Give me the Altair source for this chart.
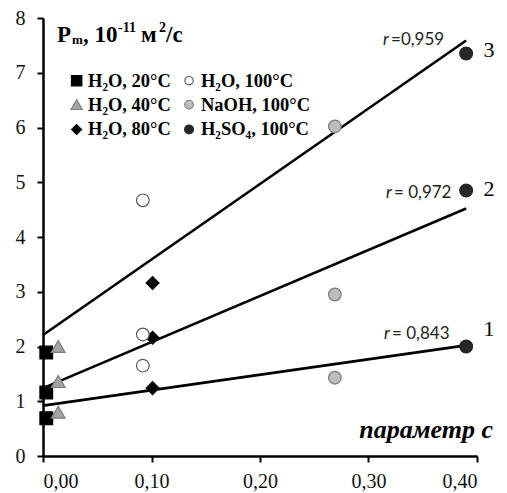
import altair as alt
import pandas as pd

# ---------------- data ----------------
series = ["H₂O, 20°C", "H₂O, 40°C", "H₂O, 80°C", "H₂O, 100°C", "NaOH, 100°C", "H₂SO₄, 100°C"]
c_values = [
    [0.003, 0.003, 0.003],
    [0.014, 0.014, 0.014],
    [0.101, 0.101, 0.101],
    [0.092, 0.092, 0.092],
    [0.269, 0.269, 0.269],
    [0.390, 0.390, 0.390],
]
p_values = [
    [1.89, 1.16, 0.69],
    [2.00, 1.36, 0.80],
    [3.16, 2.16, 1.24],
    [4.67, 2.22, 1.65],
    [6.02, 2.95, 1.43],
    [7.35, 4.85, 2.00],
]

fit_ids = ["1", "2", "3"]
fit_c0 = [0.0, 0.0, 0.0]
fit_c1 = [0.39, 0.39, 0.39]
fit_p0 = [0.92, 1.24, 2.21]
fit_p1 = [2.02, 4.52, 7.59]
fit_r = ["= 0,843", "= 0,972", "=0,959"]

x_ticks = [0.0, 0.1, 0.2, 0.3, 0.4]
y_ticks = [0, 1, 2, 3, 4, 5, 6, 7, 8]

# ---------------- styles ----------------
shapes = ["square", "triangle-up", "diamond", "circle", "circle", "circle"]
fills = ["#000000", "#a3a3a3", "#000000", "#ffffff", "#bdbdbd", "#262626"]
strokes = ["#000000", "#7d7d7d", "#000000", "#5a5a5a", "#7a7a7a", "#262626"]
sizes = [160, 190, 165, 160, 160, 165]
leg_sizes = [110, 130, 100, 70, 75, 80]

SERIF = "Liberation Serif"
xscale = alt.Scale(domain=[0, 0.4], nice=False, zero=False)
yscale = alt.Scale(domain=[0, 8], nice=False, zero=False)

# ---------------- fitted lines ----------------
fit_df = pd.DataFrame({"id": fit_ids, "c0": fit_c0, "c1": fit_c1, "p0": fit_p0, "p1": fit_p1})
lines = alt.Chart(fit_df).mark_rule(color="black", strokeWidth=2.6).encode(
    x=alt.X("c0:Q", scale=xscale, title=None,
            axis=alt.Axis(values=x_ticks, labelExpr="replace(format(datum.value, '.2f'), /\\./, ',')",
                          tickSize=6, labelPadding=9)),
    x2="c1:Q",
    y=alt.Y("p0:Q", scale=yscale, title=None,
            axis=alt.Axis(values=y_ticks, format="d", tickSize=6, labelPadding=12)),
    y2="p1:Q",
)

layers = [lines]

# ---------------- data points ----------------
for i, name in enumerate(series):
    df = pd.DataFrame({"c": c_values[i], "p": p_values[i], "s": [name] * len(c_values[i])})
    layers.append(
        alt.Chart(df).mark_point(shape=shapes[i], size=sizes[i], fill=fills[i], stroke=strokes[i],
                                 filled=True, opacity=1, strokeWidth=1.2)
        .encode(x=alt.X("c:Q", scale=xscale, title=None), y=alt.Y("p:Q", scale=yscale, title=None))
    )


def text(s, x, y, size, dx=0, dy=0, font=SERIF, weight="normal", style="normal",
         align="left", baseline="alphabetic", color="black"):
    return alt.Chart(pd.DataFrame({"t": [s]})).mark_text(
        font=font, fontSize=size, fontWeight=weight, fontStyle=style, align=align,
        baseline=baseline, color=color, dx=dx, dy=dy
    ).encode(x=alt.XDatum(x, title=None), y=alt.YDatum(y, title=None), text="t:N")


# ---------------- legend (inside the plot) ----------------
leg_mark_x = [0.031, 0.1346]
leg_text_x = [0.0415, 0.1456]
leg_row_y = [6.855, 6.418, 5.964]
for i, name in enumerate(series):
    col, row = i // 3, i % 3
    layers.append(
        alt.Chart(pd.DataFrame({"s": [name]})).mark_point(
            shape=shapes[i], size=leg_sizes[i], fill=fills[i], stroke=strokes[i],
            filled=True, opacity=1, strokeWidth=1.1
        ).encode(x=alt.XDatum(leg_mark_x[col], title=None), y=alt.YDatum(leg_row_y[row], title=None))
    )
    layers.append(text(name, leg_text_x[col], leg_row_y[row], 18.5, weight="bold", baseline="middle"))

# ---------------- title inside the plot ----------------
ty = 7.564
layers += [
    text("P", 0, ty, 23, dx=14, weight="bold"),
    text("m", 0, ty, 13, dx=29, dy=2, weight="bold"),
    text(", 10", 0, ty, 23, dx=40, weight="bold"),
    text("-11", 0, ty, 14, dx=75, dy=-10, weight="bold"),
    text("м", 0, ty, 23, dx=98, weight="bold"),
    text("2", 0, ty, 14, dx=116, dy=-10, weight="bold"),
    text("/с", 0, ty, 23, dx=123, weight="bold"),
]

# ---------------- r labels and line numbers ----------------
r_x = [0.3143, 0.3161, 0.3134]
r_y = [2.13, 4.71, 7.51]
for i in range(3):
    layers.append(text("r", r_x[i], r_y[i], 17, font="Lato", style="italic", color="#222222"))
    layers.append(text(fit_r[i], r_x[i], r_y[i], 17, dx=8, font="Lato", color="#222222"))

num_y = [2.2, 4.75, 7.29]
for i in range(3):
    layers.append(text(fit_ids[i], 0.4111, num_y[i], 22, align="center"))

# axis title inside the plot
layers.append(text("параметр с", 0.4147, 0.33, 26, weight="bold", style="italic", align="right"))

chart = alt.layer(*layers).properties(
    width=434, height=438,
    padding={"left": 35, "top": 10, "right": 22, "bottom": 36},
    autosize=alt.AutoSizeParams(type="none"),
).configure_view(stroke=None).configure_axis(
    grid=False, domainColor="black", domainWidth=2.5, tickColor="black", tickWidth=2,
    labelFont=SERIF, labelFontSize=20, labelColor="#111111",
)

chart.save("out.html", embed_options={"renderer": "svg", "actions": False})
